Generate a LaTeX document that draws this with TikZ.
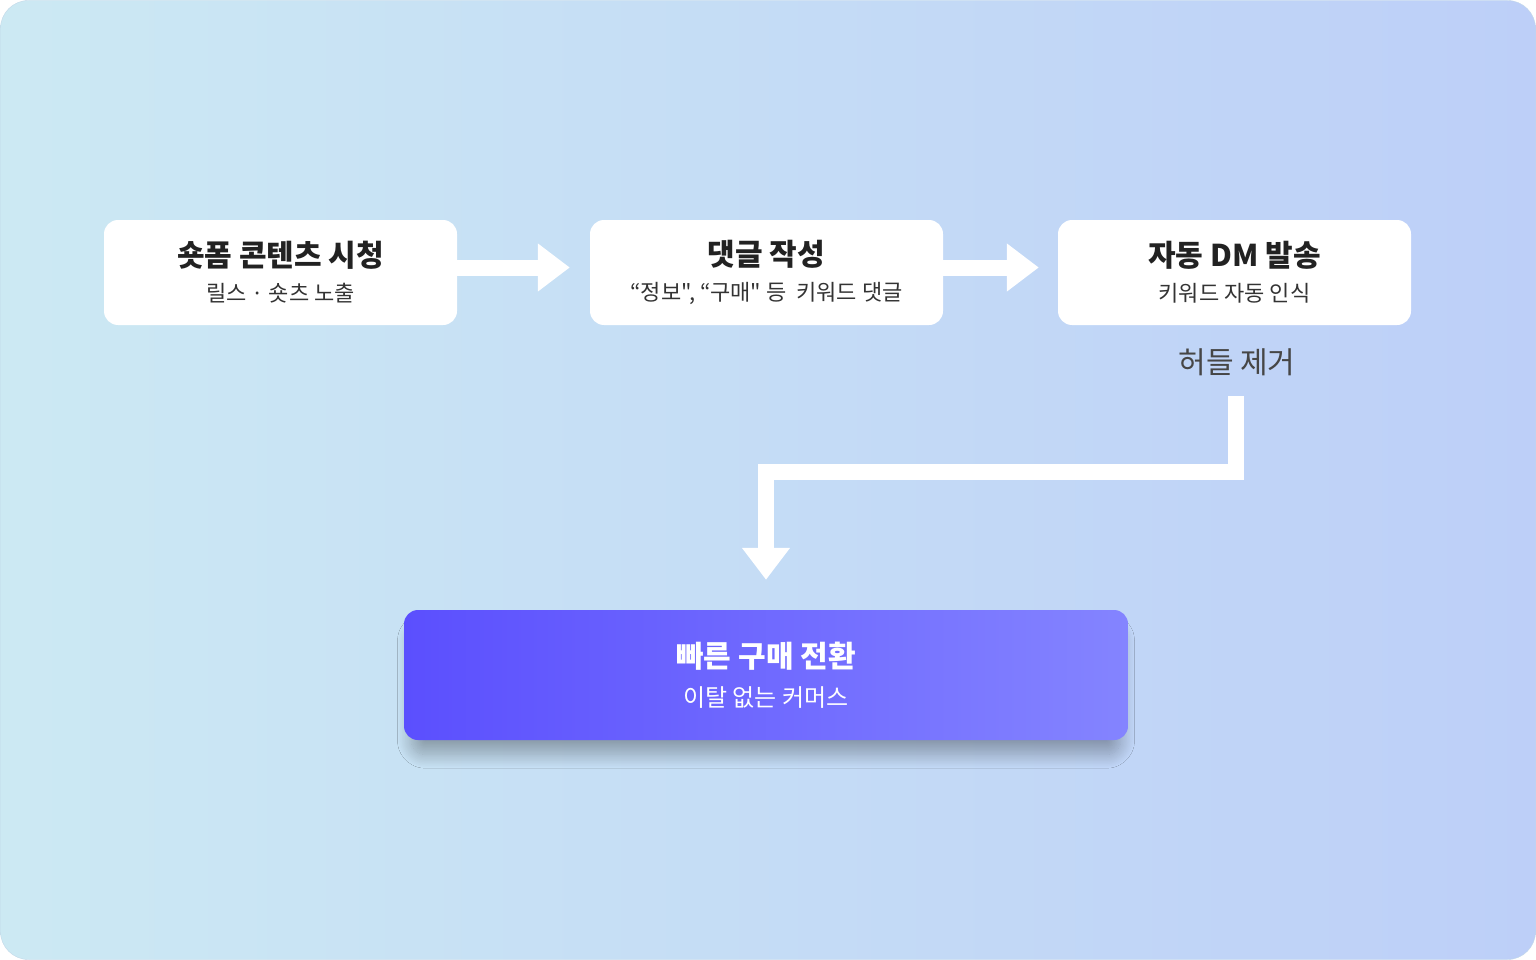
\documentclass[tikz,border=0pt]{standalone}
\usepackage{fontspec}
\newfontfamily\krfont{Noto Sans CJK KR}
\usepackage{tikz}
\usetikzlibrary{arrows.meta,shadows.blur}
\definecolor{skyL}{HTML}{CCE9F3}
\definecolor{skyM}{HTML}{CCE7F4}
\definecolor{skyR}{HTML}{BDCFF8}
\definecolor{frame}{HTML}{C2D8E8}
\definecolor{ink}{HTML}{222222}
\definecolor{subink}{HTML}{333333}
\definecolor{hintink}{HTML}{464646}
\definecolor{violetL}{HTML}{5B4FFE}
\definecolor{violetM}{HTML}{665BFF}
\definecolor{violetR}{HTML}{8484FF}
\tikzset{
    card/.style={fill=white, rounded corners=14pt, minimum width=353pt, minimum height=105pt, align=center, text=subink, font=\krfont\fontsize{22}{35}\selectfont}, % 단계 카드
    goal/.style={left color=violetL, middle color=violetM, right color=violetR, rounded corners=14pt, minimum width=724pt, minimum height=130pt, align=center, text=white, font=\krfont\fontsize{24}{39}\selectfont, blur shadow={shadow xshift=0pt, shadow yshift=-16pt, shadow scale=0.98, shadow blur radius=14pt, shadow blur steps=24, shadow opacity=30}}, % 최종 단계
    flow/.style={draw=white, line width=16pt, line join=miter, -{Triangle[length=32pt, width=46pt]}} % 흰색 화살표
}

\begin{document}
\begin{tikzpicture}[x=1pt, y=-1pt]
            \useasboundingbox (0,0) rectangle (1536,960);
            \fill[white] (0,0) rectangle (1536,960);
            \shadedraw[left color=skyL, middle color=skyM, right color=skyR, draw=frame, rounded corners=28pt] (0.5,0.5) rectangle (1535.5,959.5);

            \node[card] (watch) at (280.5,272.5) {{\fontsize{30}{35}\selectfont\bfseries\color{ink} 숏폼 콘텐츠 시청}\\릴스 · 숏츠 노출};
            \node[card] (comment) at (766.5,272.5) {{\fontsize{30}{35}\selectfont\bfseries\color{ink} 댓글 작성}\\“정보", “구매" 등\ \ 키워드 댓글};
            \node[card] (dm) at (1234.5,272.5) {{\fontsize{30}{35}\selectfont\bfseries\color{ink} 자동 DM 발송}\\키워드 자동 인식};
            \node[text=hintink, font=\krfont\fontsize{30}{36}\selectfont] (hurdle) at (1237,362) {허들 제거};
            \node[goal] (convert) at (766,675) {{\fontsize{30}{39}\selectfont\bfseries 빠른 구매 전환}\\이탈 없는 커머스};

            \coordinate (drop) at (1236,396);
            \draw[flow] ([yshift=5pt]watch.east) -- ([xshift=-20pt, yshift=5pt]comment.west);
            \draw[flow] ([yshift=5pt]comment.east) -- ([xshift=-19pt, yshift=5pt]dm.west);
            \draw[flow] (drop) -- (1236,472) -| ([yshift=30pt]convert.north);
        \end{tikzpicture}
\end{document}
